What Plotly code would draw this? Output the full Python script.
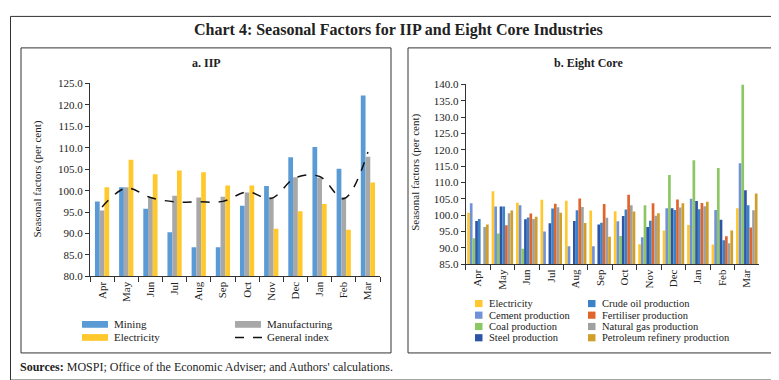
import plotly.graph_objects as go

W, H = 779, 380

months = ["Apr", "May", "Jun", "Jul", "Aug", "Sep", "Oct", "Nov", "Dec", "Jan", "Feb", "Mar"]

# Panel a: IIP
iip_mining = [97.5, 100.8, 95.8, 90.3, 86.8, 86.8, 96.5, 101.1, 107.8, 110.2, 105.1, 122.2]
iip_manufacturing = [95.4, 100.8, 98.4, 98.8, 98.4, 98.6, 99.6, 98.5, 103.1, 103.0, 98.5, 107.9]
iip_electricity = [100.8, 107.2, 103.8, 104.7, 104.3, 101.2, 101.2, 91.1, 95.2, 96.9, 90.9, 101.9]
iip_general = [96.2, 100.6, 98.4, 97.4, 97.4, 97.5, 99.7, 98.2, 103.0, 103.3, 98.1, 109.0]

# Panel b: Eight Core
core_electricity = [100.7, 107.3, 103.8, 104.7, 104.4, 101.4, 101.2, 91.1, 95.3, 97.0, 91.0, 102.1]
core_cement = [103.6, 102.6, 103.0, 95.0, 90.5, 90.5, 98.1, 93.2, 102.1, 105.0, 101.6, 115.9]
core_coal = [92.9, 94.4, 89.7, 84.6, 84.6, 84.6, 93.6, 103.0, 112.3, 116.8, 114.4, 140.0]
core_steel = [98.2, 102.6, 98.7, 97.5, 98.2, 97.1, 99.7, 96.4, 102.1, 104.3, 98.6, 107.6]
core_crude = [98.8, 102.6, 99.3, 102.0, 101.5, 97.7, 101.7, 98.3, 101.6, 101.8, 92.3, 103.0]
core_fertiliser = [84.6, 96.9, 100.5, 103.5, 105.1, 103.4, 106.2, 103.6, 104.8, 103.7, 93.5, 96.2]
core_natgas = [96.4, 100.6, 98.8, 102.4, 102.5, 99.2, 103.0, 99.8, 102.3, 102.7, 91.4, 101.5]
core_petroleum = [97.1, 101.4, 99.5, 100.7, 97.6, 93.4, 101.1, 100.6, 103.6, 104.1, 95.3, 106.6]

iip_names = ["Mining", "Manufacturing", "Electricity", "General index"]
core_names = ["Electricity", "Cement production", "Coal production", "Steel production",
              "Crude oil production", "Fertiliser production", "Natural gas production",
              "Petroleum refinery production"]

iip_colors = ["#5B9BD5", "#A8A8A8", "#FFC92E"]
core_colors = ["#FFC82E", "#7192D6", "#8DC764", "#2E54A6", "#3B82C9", "#E0652D", "#A0A0A0", "#D09E29"]

FONT = "Liberation Serif"
TXT = "#222222"


def px(x):
    return x / W


def py(y):
    return 1 - y / H


fig = go.Figure()

# Panel a bars
iip_series = [iip_mining, iip_manufacturing, iip_electricity]
gw_a = 0.59
bw_a = gw_a / 3
for i, (vals, name, col) in enumerate(zip(iip_series, iip_names[:3], iip_colors)):
    fig.add_trace(go.Bar(x=months, y=vals, name=name, marker_color=col, marker_line_width=0,
                         width=bw_a, offset=-gw_a / 2 + i * bw_a, xaxis="x", yaxis="y",
                         showlegend=False))
fig.add_trace(go.Scatter(x=months, y=iip_general, name=iip_names[3], mode="lines",
                         line=dict(color="#111111", width=1.5, dash="dash", shape="spline"),
                         xaxis="x", yaxis="y", showlegend=False))

# Panel b bars
core_series = [core_electricity, core_cement, core_coal, core_steel, core_crude,
               core_fertiliser, core_natgas, core_petroleum]
gw_b = 0.88
bw_b = gw_b / 8
for i, (vals, name, col) in enumerate(zip(core_series, core_names, core_colors)):
    fig.add_trace(go.Bar(x=months, y=vals, name=name, marker_color=col, marker_line_width=0,
                         width=bw_b, offset=-gw_b / 2 + i * bw_b, xaxis="x2", yaxis="y2",
                         showlegend=False))

axis_common = dict(showline=True, linecolor="#333333", linewidth=1, showgrid=False,
                   zeroline=False, tickfont=dict(family=FONT, size=11, color=TXT))

fig.update_layout(
    width=W, height=H, margin=dict(l=0, r=0, t=0, b=0),
    paper_bgcolor="white", plot_bgcolor="white", barmode="overlay",
    xaxis=dict(domain=[px(82), px(372)], anchor="y", type="category", tickangle=-90,
               ticks="outside", tickson="boundaries", ticklen=5, tickcolor="#333333",
               **axis_common),
    yaxis=dict(domain=[py(271), py(71.7)], anchor="x", range=[80, 125], dtick=5,
               tickformat=".1f", ticks="outside", ticklen=4, tickcolor="#333333",
               **axis_common),
    xaxis2=dict(domain=[px(457.7), px(751)], anchor="y2", type="category", tickangle=-90,
                ticks="outside", tickson="boundaries", ticklen=5, tickcolor="#333333",
                **axis_common),
    yaxis2=dict(domain=[py(258.3), py(72.7)], anchor="x2", range=[85, 140], dtick=5,
                tickformat=".1f", ticks="outside", ticklen=4, tickcolor="#333333",
                **axis_common),
)

shapes = []
annotations = []

# Frames
shapes.append(dict(type="rect", xref="paper", yref="paper", x0=px(2.5), x1=px(776.5),
                   y0=py(378), y1=py(2.5), line=dict(color="#333333", width=1)))
shapes.append(dict(type="rect", xref="paper", yref="paper", x0=px(13), x1=px(383),
                   y0=py(350), y1=py(35), line=dict(color="#333333", width=1)))
shapes.append(dict(type="rect", xref="paper", yref="paper", x0=px(400), x1=px(766),
                   y0=py(350), y1=py(35), line=dict(color="#333333", width=1)))

# Titles
annotations.append(dict(text="<b>Chart 4: Seasonal Factors for IIP and Eight Core Industries</b>",
                        x=px(390), y=py(17), xref="paper", yref="paper", showarrow=False,
                        xanchor="center", yanchor="middle",
                        font=dict(family=FONT, size=16, color=TXT)))
annotations.append(dict(text="<b>a. IIP</b>", x=px(198), y=py(51), xref="paper", yref="paper",
                        showarrow=False, xanchor="center", yanchor="middle",
                        font=dict(family=FONT, size=12, color=TXT)))
annotations.append(dict(text="<b>b. Eight Core</b>", x=px(580), y=py(51), xref="paper",
                        yref="paper", showarrow=False, xanchor="center", yanchor="middle",
                        font=dict(family=FONT, size=12, color=TXT)))
annotations.append(dict(text="Seasonal factors (per cent)", x=px(30), y=py(171), xref="paper",
                        yref="paper", showarrow=False, textangle=-90, xanchor="center",
                        yanchor="middle", font=dict(family=FONT, size=11, color=TXT)))
annotations.append(dict(text="Seasonal factors (per cent)", x=px(408), y=py(164), xref="paper",
                        yref="paper", showarrow=False, textangle=-90, xanchor="center",
                        yanchor="middle", font=dict(family=FONT, size=11, color=TXT)))
annotations.append(dict(text="<b>Sources:</b> MOSPI; Office of the Economic Adviser; and Authors' calculations.",
                        x=px(10), y=py(364), xref="paper", yref="paper", showarrow=False,
                        xanchor="left", yanchor="middle",
                        font=dict(family=FONT, size=12, color=TXT)))

# Legend panel a (2 columns, row-wise)
leg_a_pos = [(74, 320.5), (227, 320.5), (74, 334), (227, 334)]
for k, name in enumerate(iip_names):
    x0, yc = leg_a_pos[k]
    if k < 3:
        shapes.append(dict(type="rect", xref="paper", yref="paper", x0=px(x0), x1=px(x0 + 26),
                           y0=py(yc + 3.5), y1=py(yc - 3.5), fillcolor=iip_colors[k],
                           line=dict(width=0)))
    else:
        shapes.append(dict(type="line", xref="paper", yref="paper", x0=px(x0), x1=px(x0 + 27),
                           y0=py(yc), y1=py(yc), line=dict(color="#111111", width=1.5, dash="dash")))
    annotations.append(dict(text=name, x=px(x0 + 30), y=py(yc), xref="paper", yref="paper",
                            showarrow=False, xanchor="left", yanchor="middle",
                            font=dict(family=FONT, size=11, color=TXT)))

# Legend panel b (2 columns, column-major)
rows_b = [299, 311, 322.7, 334.3]
cols_b = [467, 580]
for k, name in enumerate(core_names):
    col = k // 4
    row = k % 4
    x0 = cols_b[col]
    yc = rows_b[row]
    shapes.append(dict(type="rect", xref="paper", yref="paper", x0=px(x0), x1=px(x0 + 7.5),
                       y0=py(yc + 3.7), y1=py(yc - 3.7), fillcolor=core_colors[k],
                       line=dict(width=0)))
    annotations.append(dict(text=name, x=px(x0 + 11.5), y=py(yc), xref="paper", yref="paper",
                            showarrow=False, xanchor="left", yanchor="middle",
                            font=dict(family=FONT, size=10.5, color=TXT)))

fig.update_layout(shapes=shapes, annotations=annotations)

fig.write_html("out.html")
